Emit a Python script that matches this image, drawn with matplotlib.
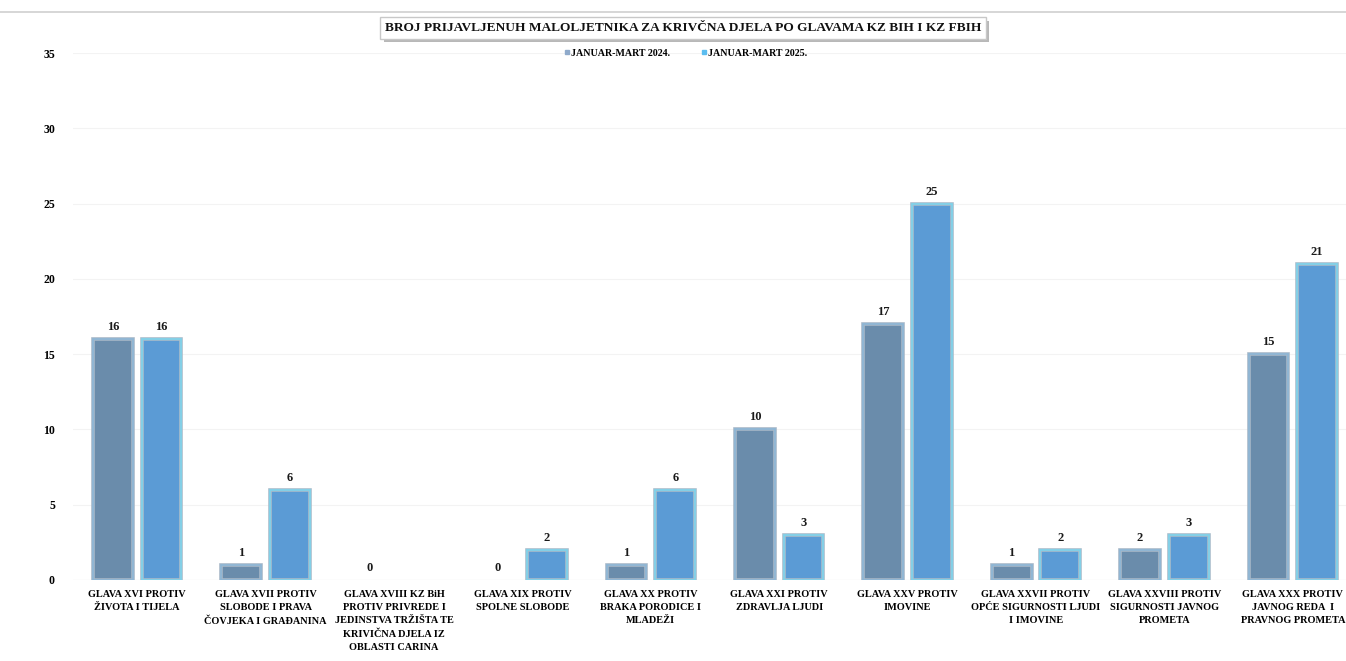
import numpy as np
import matplotlib.pyplot as plt
from matplotlib.lines import Line2D
from matplotlib import patheffects as pe

categories = [
    "GLAVA XVI PROTIV\nŽIVOTA I TIJELA",
    "GLAVA XVII PROTIV\nSLOBODE I PRAVA\nČOVJEKA I GRAĐANINA",
    "GLAVA XVIII KZ BiH\nPROTIV PRIVREDE I\nJEDINSTVA TRŽIŠTA TE\nKRIVIČNA DJELA IZ\nOBLASTI CARINA",
    "GLAVA XIX PROTIV\nSPOLNE SLOBODE",
    "GLAVA XX PROTIV\nBRAKA PORODICE I\nMLADEŽI",
    "GLAVA XXI PROTIV\nZDRAVLJA LJUDI",
    "GLAVA XXV PROTIV\nIMOVINE",
    "GLAVA XXVII PROTIV\nOPĆE SIGURNOSTI LJUDI\nI IMOVINE",
    "GLAVA XXVIII PROTIV\nSIGURNOSTI JAVNOG\nPROMETA",
    "GLAVA XXX PROTIV\nJAVNOG REDA  I\nPRAVNOG PROMETA",
]
series_names = ["JANUAR-MART 2024.", "JANUAR-MART 2025."]
values_2024 = [16, 1, 0, 0, 1, 10, 17, 1, 2, 15]
values_2025 = [16, 6, None, 2, 6, 3, 25, 2, 3, 21]
y_ticks = [0, 5, 10, 15, 20, 25, 30, 35]

title = "BROJ PRIJAVLJENUH MALOLJETNIKA ZA KRIVČNA DJELA PO GLAVAMA KZ BIH I KZ FBIH"

plt.rcParams['font.family'] = ['Liberation Serif', 'DejaVu Serif']
plt.rcParams['font.weight'] = 'bold'

W, H = 1346, 661
fig = plt.figure(figsize=(W / 100, H / 100), dpi=100)

ax_left, ax_right = 73, 1346
ax_bottom, ax_top = 580, 53
ax = fig.add_axes([ax_left / W, 1 - ax_bottom / H,
                   (ax_right - ax_left) / W, (ax_bottom - ax_top) / H])

unit = 128.4
x = np.arange(len(categories))
bw = 0.31
off = 0.19

face = ["#6A8CAB", "#5B9BD5"]
outer = ["#A7B8C8", "#A9BDCB"]
inner = ["#8DB6D6", "#7DD3EC"]

for vals, sgn, fc, oc, ic in [(values_2024, -1, face[0], outer[0], inner[0]),
                              (values_2025, 1, face[1], outer[1], inner[1])]:
    for xi, v in zip(x, vals):
        if v is None:
            continue
        if v > 0:
            ax.bar(xi + sgn * off, v, width=bw, color=fc, edgecolor=oc,
                   linewidth=2.6, zorder=3)
            ax.bar(xi + sgn * off, v, width=bw, fill=False, edgecolor=ic,
                   linewidth=1.2, zorder=3)
        ax.text(xi + sgn * off, v + 0.4, str(v), ha='center', va='bottom',
                fontsize=9, fontweight='bold', color='#1a1a1a', zorder=4)

ax.set_xlim(-0.5, -0.5 + (ax_right - ax_left) / unit)
ax.set_ylim(0, 35)
ax.set_yticks(y_ticks)
ax.set_yticklabels([str(t) for t in y_ticks], fontsize=8.5, fontweight='bold')
ax.set_xticks(x)
ax.set_xticklabels(categories, fontsize=7.4, fontweight='bold', linespacing=1.6,
                   va='top')
ax.tick_params(axis='y', length=0, pad=13)
ax.tick_params(axis='x', length=0, pad=7)
ax.grid(axis='y', color='#F3F3F3', linewidth=0.8, zorder=0)
for s in ax.spines.values():
    s.set_visible(False)
ax.axhline(0, color='#E6E6E6', linewidth=0.8, zorder=2)

# top border line
fig.add_artist(Line2D([0, 1], [1 - 12 / H, 1 - 12 / H], color='#D0D0D0',
                      linewidth=1.2, transform=fig.transFigure))

# title with shadow box
t = fig.text(683 / W, 1 - 28 / H, title, ha='center', va='center', fontsize=9.6,
             fontweight='bold', color='#111111',
             bbox=dict(boxstyle='square,pad=0.35', facecolor='white',
                       edgecolor='#C8C8C8', linewidth=1.0))
t.get_bbox_patch().set_path_effects([pe.SimplePatchShadow(offset=(2.5, -2.5),
                                                          shadow_rgbFace='#9A9A9A',
                                                          alpha=0.7),
                                     pe.Normal()])

# legend
legend_col = ["#8FAACB", "#5BBDF0"]
handles = [Line2D([], [], marker='s', linestyle='none', markersize=3.5,
                  markerfacecolor=c, markeredgecolor=c) for c in legend_col]
fig.legend(handles, series_names, loc='center', bbox_to_anchor=(686 / W, 1 - 53 / H),
           ncol=2, frameon=False, handlelength=0.5, handletextpad=0.15,
           columnspacing=3.2, prop={'weight': 'bold', 'size': 7.2})

fig.savefig("out.png", dpi=100)
